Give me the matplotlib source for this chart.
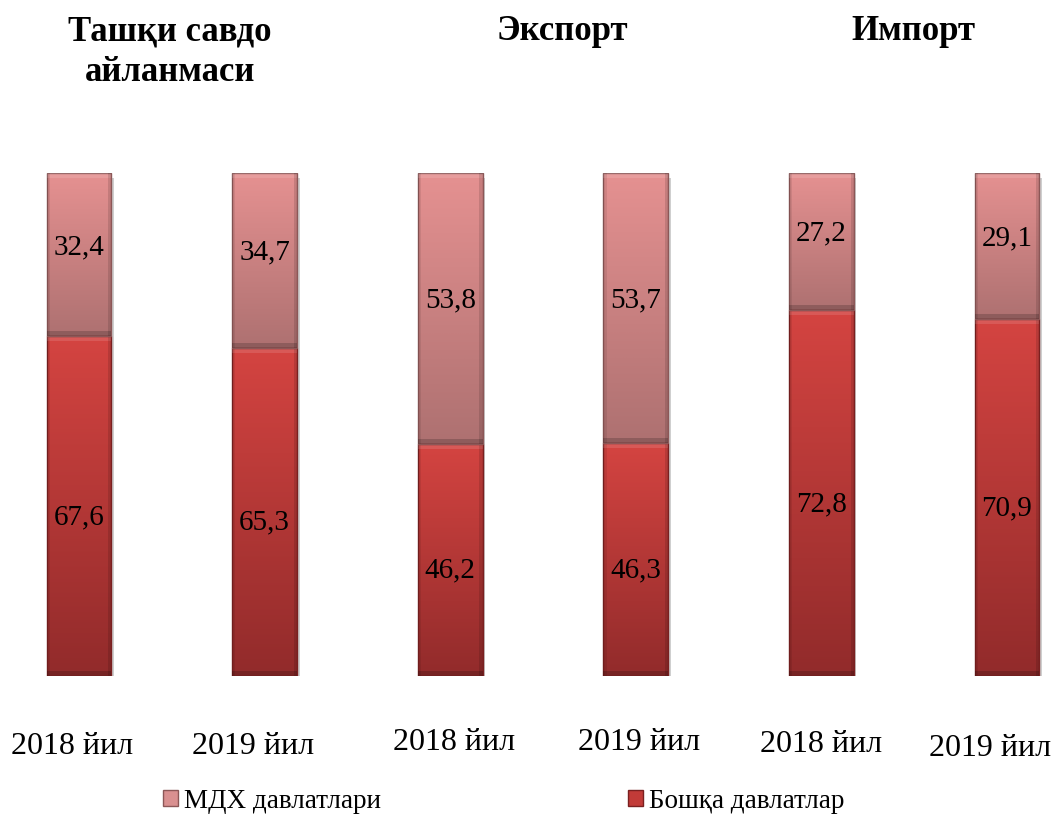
import numpy as np
import matplotlib
matplotlib.use('Agg')
import matplotlib.pyplot as plt
from matplotlib.patches import Rectangle, Patch

plt.rcParams['font.family'] = ['Liberation Serif', 'DejaVu Serif']

# data
years = ['2018 йил', '2019 йил', '2018 йил', '2019 йил', '2018 йил', '2019 йил']
other = [67.6, 65.3, 46.2, 46.3, 72.8, 70.9]   # Бошқа давлатлар
cis = [32.4, 34.7, 53.8, 53.7, 27.2, 29.1]     # МДХ давлатлари
groups = ['Ташқи савдо\nайланмаси', 'Экспорт', 'Импорт']
legend_labels = ['МДХ давлатлари', 'Бошқа давлатлар']

W, H = 1054, 814
fig = plt.figure(figsize=(W / 100, H / 100), dpi=100)
ax = fig.add_axes([0, (H - 676) / H, 1, 503 / H])
ax.set_xlim(-79 / 185.6, (W - 79) / 185.6)
ax.set_ylim(0, 100)
ax.axis('off')

bw = 0.35
x = np.arange(len(other))


def grad_bar(xc, y0, h, c_top, c_bot, c_edge):
    n = 64
    t = np.linspace(0, 1, n)[:, None, None]
    top = np.array(matplotlib.colors.to_rgb(c_top))
    bot = np.array(matplotlib.colors.to_rgb(c_bot))
    img = top * (1 - t) + bot * t
    img = np.repeat(img, 2, axis=1)
    ax.imshow(img, extent=(xc - bw / 2, xc + bw / 2, y0, y0 + h),
              aspect='auto', origin='upper', zorder=2, interpolation='bilinear')
    ax.add_patch(Rectangle((xc - bw / 2, y0), bw, h, fill=False, ec=c_edge, lw=1.0, zorder=3))
    # bevel: light band at top, dark band at bottom, darker sides
    ax.add_patch(Rectangle((xc - bw / 2, y0 + h - 1.0), bw, 1.0, fc='white', alpha=0.12,
                           lw=0, zorder=3))
    ax.add_patch(Rectangle((xc - bw / 2, y0), bw, 1.0, fc='black', alpha=0.18,
                           lw=0, zorder=3))
    ax.add_patch(Rectangle((xc - bw / 2, y0), 0.018, h, fc='black', alpha=0.08,
                           lw=0, zorder=3))
    ax.add_patch(Rectangle((xc + bw / 2 - 0.018, y0), 0.018, h, fc='black', alpha=0.12,
                           lw=0, zorder=3))


for i in range(len(x)):
    # shadow
    ax.add_patch(Rectangle((x[i] - bw / 2 + 0.014, -0.9), bw, 100, fc='#cfcfcf',
                           lw=0, zorder=1))
    grad_bar(x[i], 0, other[i], '#d44441', '#922b2b', '#7a2020')
    grad_bar(x[i], other[i], cis[i], '#e59191', '#ae7171', '#8c5757')
    ax.text(x[i], other[i] / 2 - 2.2, f'{other[i]:.1f}'.replace('.', ','),
            ha='center', va='center', fontsize=21)
    ax.text(x[i], other[i] + cis[i] / 2 + 1.5, f'{cis[i]:.1f}'.replace('.', ','),
            ha='center', va='center', fontsize=21)

label_dx = [-0.04, -0.06, 0.02, 0.02, 0.0, -0.09]
label_y = [746, 746, 742, 742, 745, 748]
for i in range(len(x)):
    xp = (79 + (x[i] + label_dx[i]) * 185.6) / W
    fig.text(xp, 1 - label_y[i] / H, years[i], ha='center', va='center', fontsize=23)

title_pos = [(170, 52), (562, 31), (913, 31)]
for g, (px, py) in zip(groups, title_pos):
    fig.text(px / W, 1 - py / H, g, ha='center', va='center', fontsize=25,
             fontweight='bold', linespacing=1.3)

handles = [Patch(fc='#d99090', ec='#8c5757'), Patch(fc='#c23b38', ec='#7a2020')]
fig.legend(handles[:1], legend_labels[:1], loc='center left', bbox_to_anchor=(139 / W, 1 - 801 / H),
           frameon=False, fontsize=19.5, handlelength=0.55, handleheight=0.55, handletextpad=0.2)
fig.legend(handles[1:], legend_labels[1:], loc='center left', bbox_to_anchor=(604 / W, 1 - 801 / H),
           frameon=False, fontsize=19.5, handlelength=0.55, handleheight=0.55, handletextpad=0.2)

fig.savefig('out.png', dpi=100)
